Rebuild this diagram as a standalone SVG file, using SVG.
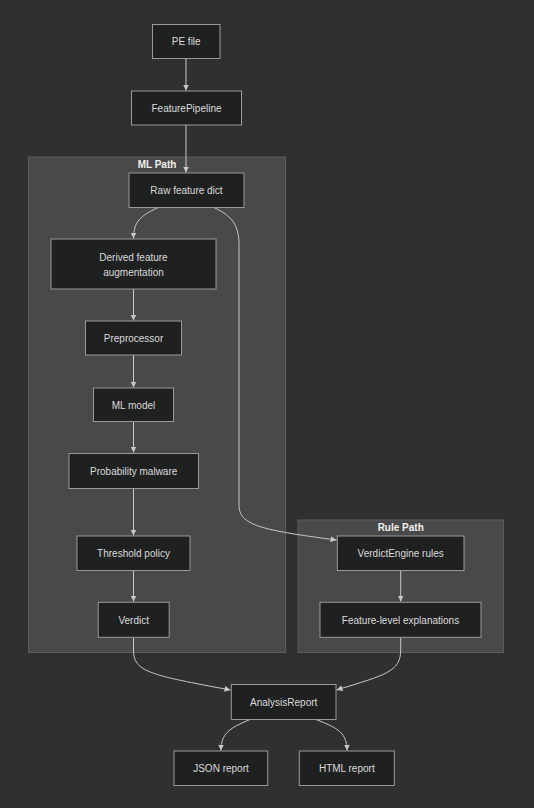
<svg xmlns="http://www.w3.org/2000/svg" width="534" height="808" viewBox="0 0 534 808">
<style>
.bg{fill:#303031}
.cluster rect{fill:#484948;stroke:#5c5c5c;stroke-width:1}
.ctitle{fill:#f0f0f0;font-family:"Liberation Sans",Arial,sans-serif;font-size:10px;font-weight:bold;text-anchor:middle}
.node rect{fill:#1f2020;stroke:#9a9a9a;stroke-width:1}
.node text{fill:#dcdcdc;font-family:"Liberation Sans",Arial,sans-serif;font-size:10px;text-anchor:middle;dominant-baseline:central}
.edge{fill:none;stroke:#c8c8c8;stroke-width:1;marker-end:url(#arr)}
</style>
<defs>
<marker id="arr" viewBox="0 0 10 10" refX="10" refY="5" markerWidth="6" markerHeight="6" markerUnits="userSpaceOnUse" orient="auto">
<path d="M0,0 L10,5 L0,10 z" fill="#c8c8c8"/>
</marker>
</defs>
<rect class="bg" x="0" y="0" width="534" height="808"/>

<g id="cluster-ml" class="cluster">
<rect x="28.5" y="157" width="257" height="495.5"/>
<text class="ctitle" x="157" y="168">ML Path</text>
</g>
<g id="cluster-rule" class="cluster">
<rect x="298" y="520" width="205.5" height="132.5"/>
<text class="ctitle" x="400.7" y="531">Rule Path</text>
</g>

<g id="edges">
<path class="edge" d="M186,58.5 L186,90.5"/>
<path class="edge" d="M186,125 L186,172.5"/>
<path class="edge" d="M158,207.5 C140,216 133.5,222 133.5,238.5"/>
<path class="edge" d="M214,207.5 C232,216 239,225 239,245 L239,505 C239,525 260,530 336.5,540"/>
<path class="edge" d="M133.5,289 L133.5,320.5"/>
<path class="edge" d="M133.5,355 L133.5,387.5"/>
<path class="edge" d="M133.5,421.5 L133.5,452.5"/>
<path class="edge" d="M133.5,488.5 L133.5,535.5"/>
<path class="edge" d="M133.5,570.5 L133.5,601.5"/>
<path class="edge" d="M133.5,637.5 L133.5,650 C133.5,672 150,675 230.5,690"/>
<path class="edge" d="M400.7,570.5 L400.7,601.5"/>
<path class="edge" d="M400.7,637.5 L400.7,650 C400.7,672 385,675 336.5,690"/>
<path class="edge" d="M250,719.5 C230,728 221,733 221,750.5"/>
<path class="edge" d="M316,719.5 C338,728 347,733 347,750.5"/>
</g>

<g id="n-pe" class="node"><rect x="152.5" y="24.5" width="67.5" height="34"/><text x="186.2" y="41.5">PE file</text></g>
<g id="n-fp" class="node"><rect x="131.5" y="91" width="110" height="34"/><text x="186.5" y="108">FeaturePipeline</text></g>
<g id="n-raw" class="node"><rect x="129" y="173" width="115" height="34.5"/><text x="186.5" y="190">Raw feature dict</text></g>
<g id="n-derived" class="node"><rect x="51" y="239" width="165" height="50"/><text x="133.5" y="257">Derived feature</text><text x="133.5" y="272">augmentation</text></g>
<g id="n-pre" class="node"><rect x="85.5" y="321" width="96" height="34"/><text x="133.5" y="338">Preprocessor</text></g>
<g id="n-ml" class="node"><rect x="93.5" y="388" width="80" height="33.5"/><text x="133.5" y="405">ML model</text></g>
<g id="n-prob" class="node"><rect x="69" y="453.5" width="129.5" height="35"/><text x="133.7" y="471">Probability malware</text></g>
<g id="n-thr" class="node"><rect x="77" y="536" width="113" height="34.5"/><text x="133.5" y="553">Threshold policy</text></g>
<g id="n-verdict" class="node"><rect x="98.2" y="602.3" width="71" height="35"/><text x="133.7" y="620">Verdict</text></g>
<g id="n-ve" class="node"><rect x="337.3" y="536" width="126.7" height="34.5"/><text x="400.7" y="553">VerdictEngine rules</text></g>
<g id="n-fle" class="node"><rect x="320" y="602.3" width="161" height="35"/><text x="400.5" y="620">Feature-level explanations</text></g>
<g id="n-ar" class="node"><rect x="231.3" y="684.5" width="104.7" height="35"/><text x="283.7" y="702">AnalysisReport</text></g>
<g id="n-json" class="node"><rect x="174" y="751" width="93.7" height="34.5"/><text x="221" y="768">JSON report</text></g>
<g id="n-html" class="node"><rect x="299.3" y="751" width="95" height="34.5"/><text x="346.8" y="768">HTML report</text></g>
</svg>
